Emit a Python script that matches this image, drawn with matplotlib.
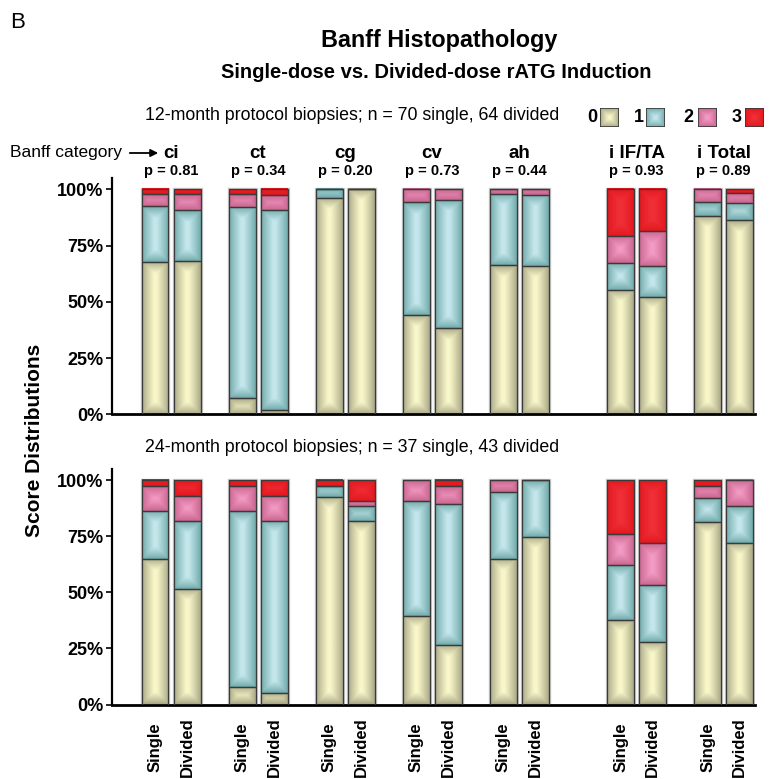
import numpy as np
import matplotlib
matplotlib.use("Agg")
import matplotlib.pyplot as plt
from matplotlib.transforms import blended_transform_factory
from matplotlib.patches import Rectangle

plt.rcParams['font.family'] = ['Liberation Sans', 'DejaVu Sans']

categories = ['ci', 'ct', 'cg', 'cv', 'ah', 'i IF/TA', 'i Total']
p_values = ['p = 0.81', 'p = 0.34', 'p = 0.20', 'p = 0.73', 'p = 0.44', 'p = 0.93', 'p = 0.89']
groups = ['Single', 'Divided']
score_labels = ['0', '1', '2', '3']

# percent of biopsies per score; order: ci S, ci D, ct S, ct D, ... i Total D
m12_score0 = [67.8, 68.3, 7.1, 1.8, 96.0, 100.0, 44.0, 38.2, 66.2, 65.8, 55.1, 52.1, 88.3, 86.2]
m12_score1 = [24.6, 22.6, 85.0, 88.9, 4.0, 0.0, 50.2, 57.0, 31.8, 31.8, 12.0, 13.9, 5.9, 7.6]
m12_score2 = [5.3, 6.9, 5.7, 6.6, 0.0, 0.0, 5.8, 4.8, 2.0, 2.4, 12.0, 15.3, 5.8, 4.7]
m12_score3 = [2.3, 2.2, 2.2, 2.7, 0.0, 0.0, 0.0, 0.0, 0.0, 0.0, 20.9, 18.7, 0.0, 1.5]

m24_score0 = [64.9, 51.6, 8.0, 5.0, 92.3, 81.8, 39.6, 26.4, 64.9, 74.7, 37.8, 28.0, 81.3, 72.0]
m24_score1 = [21.5, 30.2, 78.4, 76.8, 5.0, 6.6, 51.2, 63.2, 29.9, 25.3, 24.4, 25.5, 10.8, 16.4]
m24_score2 = [10.9, 11.2, 11.1, 11.2, 0.0, 2.5, 9.2, 7.7, 5.2, 0.0, 13.8, 18.5, 5.4, 11.6]
m24_score3 = [2.7, 7.0, 2.5, 7.0, 2.7, 9.1, 0.0, 2.7, 0.0, 0.0, 24.0, 28.0, 2.5, 0.0]

group_pos = [0, 1, 2, 3, 4, 5.35, 6.35]

# (edge colour, centre colour) for each score
shades = [('#a7a685', '#f9f7c9'),
          ('#6ea8a8', '#c4e7ec'),
          ('#c8648e', '#f39bc4'),
          ('#e4161d', '#ef3037')]

W = 781
H = 779
fig = plt.figure(figsize=(W / 100, H / 100), dpi=100)


def fx(px):
    return px / W


def fy(py):
    return 1 - py / H


def pillow(edge, centre, w_px, h_px):
    nx = max(int(w_px * 2), 2)
    ny = max(int(h_px * 2), 2)
    xs = (np.arange(nx) + 0.5) / nx * w_px
    ys = (np.arange(ny) + 0.5) / ny * h_px
    X, Y = np.meshgrid(xs, ys)
    d = np.minimum(np.minimum(X, w_px - X), np.minimum(Y, h_px - Y))
    t = np.clip(d / (w_px * 0.45), 0, 1) ** 0.9
    e = np.array(matplotlib.colors.to_rgb(edge))
    c = np.array(matplotlib.colors.to_rgb(centre))
    return e[None, None, :] * (1 - t[..., None]) + c[None, None, :] * t[..., None]


def draw_panel(ax, series):
    xs = []
    for g in group_pos:
        xs += [g - 0.184, g + 0.184]
    width = 0.31
    px_per_x = 87.0
    px_per_pct = 2.25
    # light halo round each bar
    ax.bar(xs, [100] * len(xs), width=width, color='none', edgecolor='#c8c8c8', linewidth=2.4, zorder=1)
    bottom = np.zeros(len(xs))
    for k, vals in enumerate(series):
        vals = np.array(vals)
        for i, x in enumerate(xs):
            if vals[i] <= 0:
                continue
            img = pillow(shades[k][0], shades[k][1], width * px_per_x, vals[i] * px_per_pct)
            ax.imshow(img, extent=[x - width / 2, x + width / 2, bottom[i], bottom[i] + vals[i]],
                      origin='lower', aspect='auto', interpolation='bilinear', zorder=2)
        ax.bar(xs, vals, width=width, bottom=bottom, color='none', edgecolor='#3a3a3a', linewidth=0.9, zorder=3)
        bottom += vals
    ax.set_xlim(-0.678, 6.71)
    ax.set_ylim(0, 105)
    ax.set_yticks([0, 25, 50, 75, 100])
    ax.set_yticklabels(['0%', '25%', '50%', '75%', '100%'], fontsize=13, fontweight='bold')
    ax.spines['top'].set_visible(False)
    ax.spines['right'].set_visible(False)
    ax.spines['left'].set_linewidth(1.6)
    ax.spines['bottom'].set_linewidth(2.0)
    ax.tick_params(axis='y', length=4, width=1.2, pad=2)
    ax.tick_params(axis='x', length=0)
    ax.set_xticks([])
    return xs


ax1 = fig.add_axes([fx(112), fy(414.3), fx(755) - fx(112), fy(178) - fy(414.3)])
ax2 = fig.add_axes([fx(112), fy(704.5), fx(755) - fx(112), fy(469) - fy(704.5)])

xs = draw_panel(ax1, [m12_score0, m12_score1, m12_score2, m12_score3])
draw_panel(ax2, [m24_score0, m24_score1, m24_score2, m24_score3])

# group labels under the lower panel, centred vertically
tr2 = blended_transform_factory(ax2.transData, fig.transFigure)
for x, lab in zip(xs, groups * len(categories)):
    ax2.text(x, fy(747), lab, transform=tr2, rotation=90, fontsize=12, fontweight='bold',
             ha='center', va='center')

# titles
fig.text(fx(10), fy(22), 'B', fontsize=16, ha='left', va='center')
fig.text(fx(439), fy(40), 'Banff Histopathology', fontsize=16.8, fontweight='bold', ha='center', va='center')
fig.text(fx(436), fy(72), 'Single-dose vs. Divided-dose rATG Induction', fontsize=14.5,
         fontweight='bold', ha='center', va='center')
fig.text(fx(145), fy(116), '12-month protocol biopsies; n = 70 single, 64 divided', fontsize=12.8,
         ha='left', va='center')
fig.text(fx(145), fy(448), '24-month protocol biopsies; n = 37 single, 43 divided', fontsize=12.8,
         ha='left', va='center')
fig.text(fx(35), fy(440), 'Score Distributions', fontsize=15, fontweight='bold', rotation=90,
         ha='center', va='center')

# category header
fig.text(fx(10), fy(153), 'Banff category', fontsize=12.5, ha='left', va='center')
fig.add_artist(matplotlib.patches.FancyArrowPatch((fx(127), fy(153)), (fx(161), fy(153)),
                                                  transform=fig.transFigure, arrowstyle='-|>',
                                                  mutation_scale=11, linewidth=1.3, color='black'))
tr = blended_transform_factory(ax1.transData, fig.transFigure)
for g, name, p in zip(group_pos, categories, p_values):
    ax1.text(g, fy(153), name, transform=tr, fontsize=13.5, fontweight='bold', ha='center', va='center')
    ax1.text(g, fy(171), p, transform=tr, fontsize=10.5, fontweight='bold', ha='center', va='center')

# legend
legend_label_x = [597, 644, 693, 742]
legend_box_x = [600, 646, 698, 745]
for k, lab in enumerate(score_labels):
    fig.text(fx(legend_label_x[k]), fy(117), lab, fontsize=13, fontweight='bold', ha='right', va='center')
    sax = fig.add_axes([fx(legend_box_x[k]), fy(127), fx(19), fx(19) * W / H])
    sax.imshow(pillow(shades[k][0], shades[k][1], 19, 19), extent=[0, 1, 0, 1], origin='lower',
               aspect='auto', interpolation='bilinear')
    sax.add_patch(Rectangle((0, 0), 1, 1, fill=False, edgecolor='#3a3a3a', linewidth=1.2))
    sax.set_xlim(0, 1)
    sax.set_ylim(0, 1)
    sax.axis('off')

fig.savefig('out.png', dpi=100)
